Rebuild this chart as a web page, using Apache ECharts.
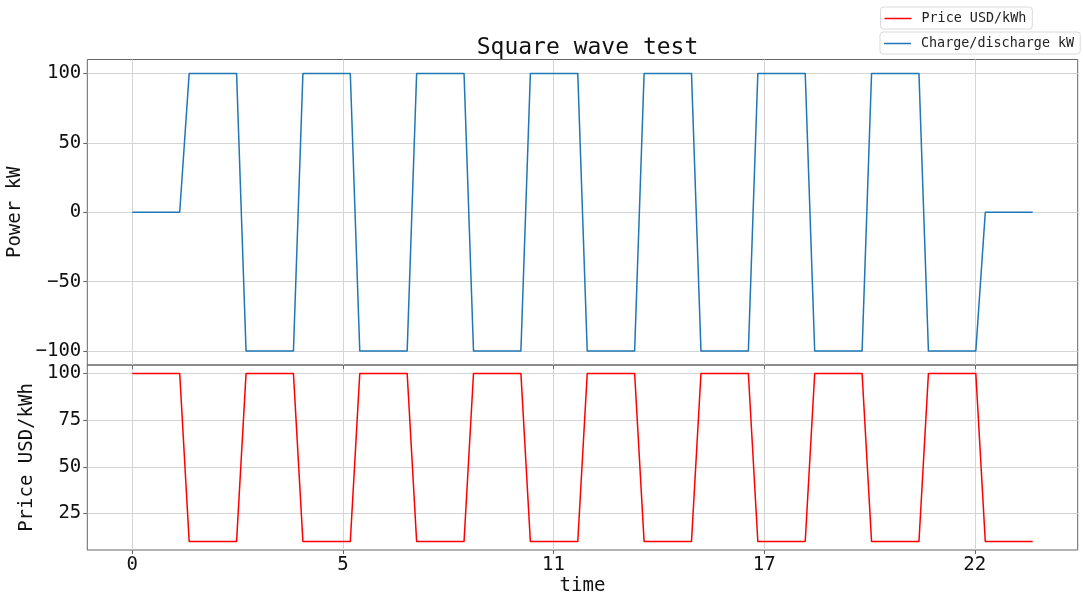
<!DOCTYPE html>
<html>
<head>
<meta charset="utf-8">
<script src="https://cdn.jsdelivr.net/npm/echarts@6/dist/echarts.min.js"></script>
<style>
  html, body { margin: 0; padding: 0; background: #fff; }
  #chart { width: 1083px; height: 598px; }
</style>
</head>
<body>
<div id="chart"></div>
<script>
// Sample times in seconds (15-minute steps)
const timeSeconds = [
  0, 900, 1800, 2700, 3600, 4500, 5400, 6300, 7200, 8100, 9000, 9900,
  10800, 11700, 12600, 13500, 14400, 15300, 16200, 17100, 18000, 18900, 19800, 20700,
  21600, 22500, 23400, 24300, 25200, 26100, 27000, 27900, 28800, 29700, 30600, 31500,
  32400, 33300, 34200, 35100, 36000, 36900, 37800, 38700, 39600, 40500, 41400, 42300,
  43200, 44100, 45000, 45900, 46800, 47700, 48600, 49500, 50400, 51300, 52200, 53100,
  54000, 54900, 55800, 56700, 57600, 58500, 59400, 60300, 61200, 62100, 63000, 63900,
  64800, 65700, 66600, 67500, 68400, 69300, 70200, 71100, 72000, 72900, 73800, 74700,
  75600, 76500, 77400, 78300, 79200, 80100, 81000, 81900, 82800, 83700, 84600, 85500
];

// Charge (+) / discharge (-) power, kW
const powerKW = [
  0, 0, 0, 0, 0, 0, 100, 100, 100, 100, 100, 100,
  -100, -100, -100, -100, -100, -100, 100, 100, 100, 100, 100, 100,
  -100, -100, -100, -100, -100, -100, 100, 100, 100, 100, 100, 100,
  -100, -100, -100, -100, -100, -100, 100, 100, 100, 100, 100, 100,
  -100, -100, -100, -100, -100, -100, 100, 100, 100, 100, 100, 100,
  -100, -100, -100, -100, -100, -100, 100, 100, 100, 100, 100, 100,
  -100, -100, -100, -100, -100, -100, 100, 100, 100, 100, 100, 100,
  -100, -100, -100, -100, -100, -100, 0, 0, 0, 0, 0, 0
];

// Energy price, USD/kWh
const priceUSD = [
  100, 100, 100, 100, 100, 100, 10, 10, 10, 10, 10, 10,
  100, 100, 100, 100, 100, 100, 10, 10, 10, 10, 10, 10,
  100, 100, 100, 100, 100, 100, 10, 10, 10, 10, 10, 10,
  100, 100, 100, 100, 100, 100, 10, 10, 10, 10, 10, 10,
  100, 100, 100, 100, 100, 100, 10, 10, 10, 10, 10, 10,
  100, 100, 100, 100, 100, 100, 10, 10, 10, 10, 10, 10,
  100, 100, 100, 100, 100, 100, 10, 10, 10, 10, 10, 10,
  100, 100, 100, 100, 100, 100, 10, 10, 10, 10, 10, 10
];

// Tick positions (seconds) and their hour labels
const timeTicks = [0, 20000, 40000, 60000, 80000];
const timeTickLabels = ['0', '5', '11', '17', '22'];
const powerTicks = [-100, -50, 0, 50, 100];
const priceTicks = [25, 50, 75, 100];

const FONT = 'DejaVu Sans Mono';
const gridColor = '#d4d4d4';
const spineColor = '#666666';

const toPairs = (xs, ys) => xs.map((x, i) => [x, ys[i]]);
const minusSign = (v) => String(v).replace('-', '\u2212');

const xCommon = {
  type: 'value',
  min: -4275,
  max: 89775,
  axisLine: { show: false, onZero: false },
  axisTick: { show: true, length: 4, inside: false, customValues: timeTicks, lineStyle: { color: spineColor } },
  splitLine: { show: true, lineStyle: { color: gridColor, width: 1 } }
};

const legendCommon = {
  orient: 'vertical',
  icon: 'rect',
  itemWidth: 27,
  itemHeight: 1.5,
  itemGap: 0,
  padding: [5, 6, 4, 4],
  borderColor: '#dadada',
  borderWidth: 1,
  borderRadius: 3,
  backgroundColor: '#fff',
  textStyle: { fontFamily: FONT, fontSize: 13.4, color: '#222', padding: [0, 0, 0, 5] }
};

const chart = echarts.init(document.getElementById('chart'), null, { renderer: 'canvas' });
chart.setOption({
  animation: false,
  backgroundColor: '#ffffff',
  textStyle: { fontFamily: FONT },
  title: {
    text: 'Square wave test',
    left: 582.5,
    textAlign: 'center',
    top: 32,
    textStyle: { fontFamily: FONT, fontSize: 23, fontWeight: 'normal', color: '#111' }
  },
  legend: [
    Object.assign({}, legendCommon, { data: ['Price USD/kWh'], left: 880.5, top: 7 }),
    Object.assign({}, legendCommon, { data: ['Charge/discharge kW'], left: 880, top: 32 })
  ],
  grid: [
    { left: 87.3, right: 5.3, top: 59.5, height: 305.5, outerBoundsMode: 'none', containLabel: false,
      show: true, borderColor: spineColor, borderWidth: 1, backgroundColor: 'transparent' },
    { left: 87.3, right: 5.3, top: 365, height: 185, outerBoundsMode: 'none', containLabel: false,
      show: true, borderColor: spineColor, borderWidth: 1, backgroundColor: 'transparent' }
  ],
  xAxis: [
    Object.assign({}, xCommon, {
      gridIndex: 0,
      axisLabel: { show: false, customValues: timeTicks }
    }),
    Object.assign({}, xCommon, {
      gridIndex: 1,
      name: 'time',
      nameLocation: 'middle',
      nameGap: 27,
      nameTextStyle: { fontFamily: FONT, fontSize: 19, color: '#111' },
      axisLabel: {
        show: true,
        customValues: timeTicks,
        margin: 6,
        fontFamily: FONT,
        fontSize: 19,
        color: '#111',
        formatter: (v) => timeTickLabels[timeTicks.indexOf(v)] ?? ''
      }
    })
  ],
  yAxis: [
    {
      type: 'value',
      gridIndex: 0,
      min: -110,
      max: 110,
      name: 'Power kW',
      nameLocation: 'middle',
      nameGap: 55,
      nameRotate: 90,
      nameTextStyle: { fontFamily: FONT, fontSize: 19, color: '#111' },
      axisLine: { show: false, onZero: false },
      axisTick: { show: true, length: 4, customValues: powerTicks, lineStyle: { color: spineColor } },
      axisLabel: { customValues: powerTicks, margin: 6, fontFamily: FONT, fontSize: 19, color: '#111', formatter: minusSign },
      splitLine: { show: true, lineStyle: { color: gridColor, width: 1 } }
    },
    {
      type: 'value',
      gridIndex: 1,
      min: 5.5,
      max: 104.5,
      name: 'Price USD/kWh',
      nameLocation: 'middle',
      nameGap: 43,
      nameRotate: 90,
      nameTextStyle: { fontFamily: FONT, fontSize: 19, color: '#111' },
      axisLine: { show: false, onZero: false },
      axisTick: { show: true, length: 4, customValues: priceTicks, lineStyle: { color: spineColor } },
      axisLabel: { customValues: priceTicks, margin: 6, fontFamily: FONT, fontSize: 19, color: '#111' },
      splitLine: { show: true, lineStyle: { color: gridColor, width: 1 } }
    }
  ],
  series: [
    {
      name: 'Price USD/kWh',
      type: 'line',
      xAxisIndex: 1,
      yAxisIndex: 1,
      data: toPairs(timeSeconds, priceUSD),
      showSymbol: false,
      symbol: 'none',
      lineStyle: { color: '#ff0000', width: 1.5 },
      itemStyle: { color: '#ff0000' },
      z: 3
    },
    {
      name: 'Charge/discharge kW',
      type: 'line',
      xAxisIndex: 0,
      yAxisIndex: 0,
      data: toPairs(timeSeconds, powerKW),
      showSymbol: false,
      symbol: 'none',
      lineStyle: { color: '#1f77b4', width: 1.5 },
      itemStyle: { color: '#1f77b4' },
      z: 3
    }
  ]
});
</script>
</body>
</html>
